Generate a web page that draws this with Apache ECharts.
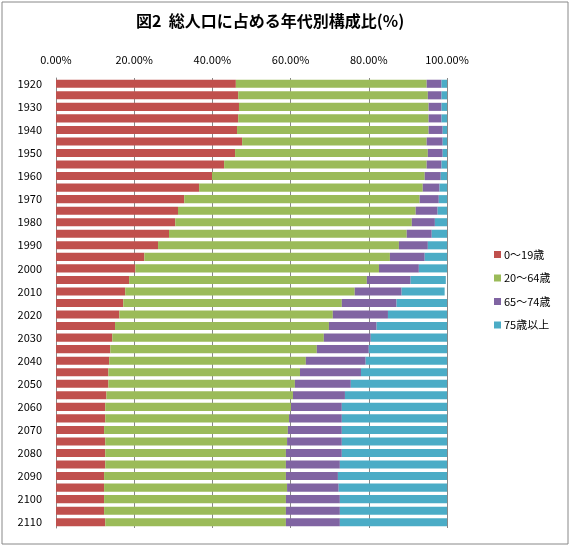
<!DOCTYPE html>
<html>
<head>
<meta charset="utf-8">
<script src="https://cdn.jsdelivr.net/npm/echarts@6/dist/echarts.min.js"></script>
<style>
  html, body { margin: 0; padding: 0; background: #fff; }
  #chart { width: 572px; height: 547px; }
</style>
</head>
<body>
<div id="chart"></div>
<script>
// 年次（5年ごと）
var years = [];
for (var y = 1920; y <= 2110; y += 5) years.push(String(y));

// 各年代の構成比（%）
var age0_19 = [46.0, 46.6, 46.8, 46.6, 46.3, 47.6, 45.8, 43.0, 39.9, 36.6, 32.8, 31.2, 30.5,
  28.9, 26.1, 22.6, 20.3, 18.7, 17.7, 17.2, 16.2, 15.1, 14.4, 13.9, 13.6, 13.4,
  13.4, 12.9, 12.6, 12.6, 12.3, 12.6, 12.6, 12.6, 12.3, 12.3, 12.3, 12.3, 12.6];
var age20_64 = [48.8, 48.5, 48.5, 48.7, 49.0, 47.2, 49.3, 51.8, 54.4, 57.2, 60.2, 60.8, 60.5,
  60.8, 61.6, 62.8, 62.3, 60.8, 58.7, 55.9, 54.6, 54.7, 54.1, 52.8, 50.3, 49.0,
  47.7, 47.7, 47.5, 47.0, 47.0, 46.5, 46.2, 46.2, 46.5, 46.8, 46.5, 46.5, 46.2];
var age65_74 = [3.8, 3.5, 3.3, 3.3, 3.6, 4.1, 3.8, 3.8, 4.1, 4.3, 4.9, 5.6, 5.9,
  6.4, 7.4, 8.9, 10.2, 11.2, 12.0, 14.0, 14.1, 12.2, 12.0, 13.3, 15.3, 15.6,
  14.3, 13.3, 13.0, 13.5, 13.8, 14.0, 14.3, 13.8, 13.3, 13.2, 13.8, 13.8, 13.8];
var age75 = [1.4, 1.4, 1.4, 1.4, 1.1, 1.1, 1.1, 1.4, 1.6, 1.9, 2.1, 2.4, 3.1,
  3.9, 4.9, 5.7, 7.2, 9.0, 11.0, 12.9, 15.1, 18.0, 19.5, 20.0, 20.8, 22.0,
  24.6, 26.1, 26.9, 26.9, 26.9, 26.9, 26.9, 27.4, 27.9, 27.7, 27.4, 27.4, 27.4];

var seriesNames = ['0〜19歳', '20〜64歳', '65〜74歳', '75歳以上'];
var colors = ['#C0504D', '#9BBB59', '#8064A2', '#4BACC6'];
var font = '"Noto Sans CJK JP", "DejaVu Sans", sans-serif';

var chart = echarts.init(document.getElementById('chart'));

var dataSets = [age0_19, age20_64, age65_74, age75];
var series = dataSets.map(function (d, i) {
  return {
    name: seriesNames[i],
    type: 'bar',
    stack: 'total',
    barCategoryGap: '30%',
    itemStyle: { color: colors[i] },
    data: d
  };
});

chart.setOption({
  backgroundColor: '#fff',
  animation: false,
  title: {
    text: '図2  総人口に占める年代別構成比(%)',
    left: 131,
    top: 8,
    textStyle: { fontFamily: font, fontSize: 16, fontWeight: 'bold', color: '#000' }
  },
  legend: {
    orient: 'vertical',
    left: 489,
    top: 244,
    itemWidth: 7,
    itemHeight: 7,
    itemGap: 12.5,
    icon: 'rect',
    textStyle: { fontFamily: font, fontSize: 11, color: '#000', padding: [0, 0, 0, -2] },
    data: seriesNames
  },
  grid: {
    left: 56,
    top: 78,
    width: 391,
    bottom: 19,
    containLabel: false
  },
  xAxis: {
    type: 'value',
    position: 'top',
    min: 0,
    max: 100,
    interval: 20,
    axisLine: { show: false },
    axisTick: { show: false },
    splitLine: { lineStyle: { color: '#888', width: 1 } },
    axisLabel: {
      margin: 13,
      fontFamily: font,
      fontSize: 11,
      color: '#000',
      formatter: function (v) { return v.toFixed(2) + '%'; }
    }
  },
  yAxis: {
    type: 'category',
    inverse: true,
    data: years,
    axisLine: { show: true, lineStyle: { color: '#888' } },
    axisTick: { show: false },
    axisLabel: {
      interval: 1,
      margin: 14,
      fontFamily: font,
      fontSize: 11,
      color: '#000'
    }
  },
  graphic: [{
    type: 'rect',
    shape: { x: 2, y: 2, width: 566, height: 542 },
    style: { fill: 'none', stroke: '#888', lineWidth: 1 },
    silent: true
  }],
  series: series
});
</script>
</body>
</html>
